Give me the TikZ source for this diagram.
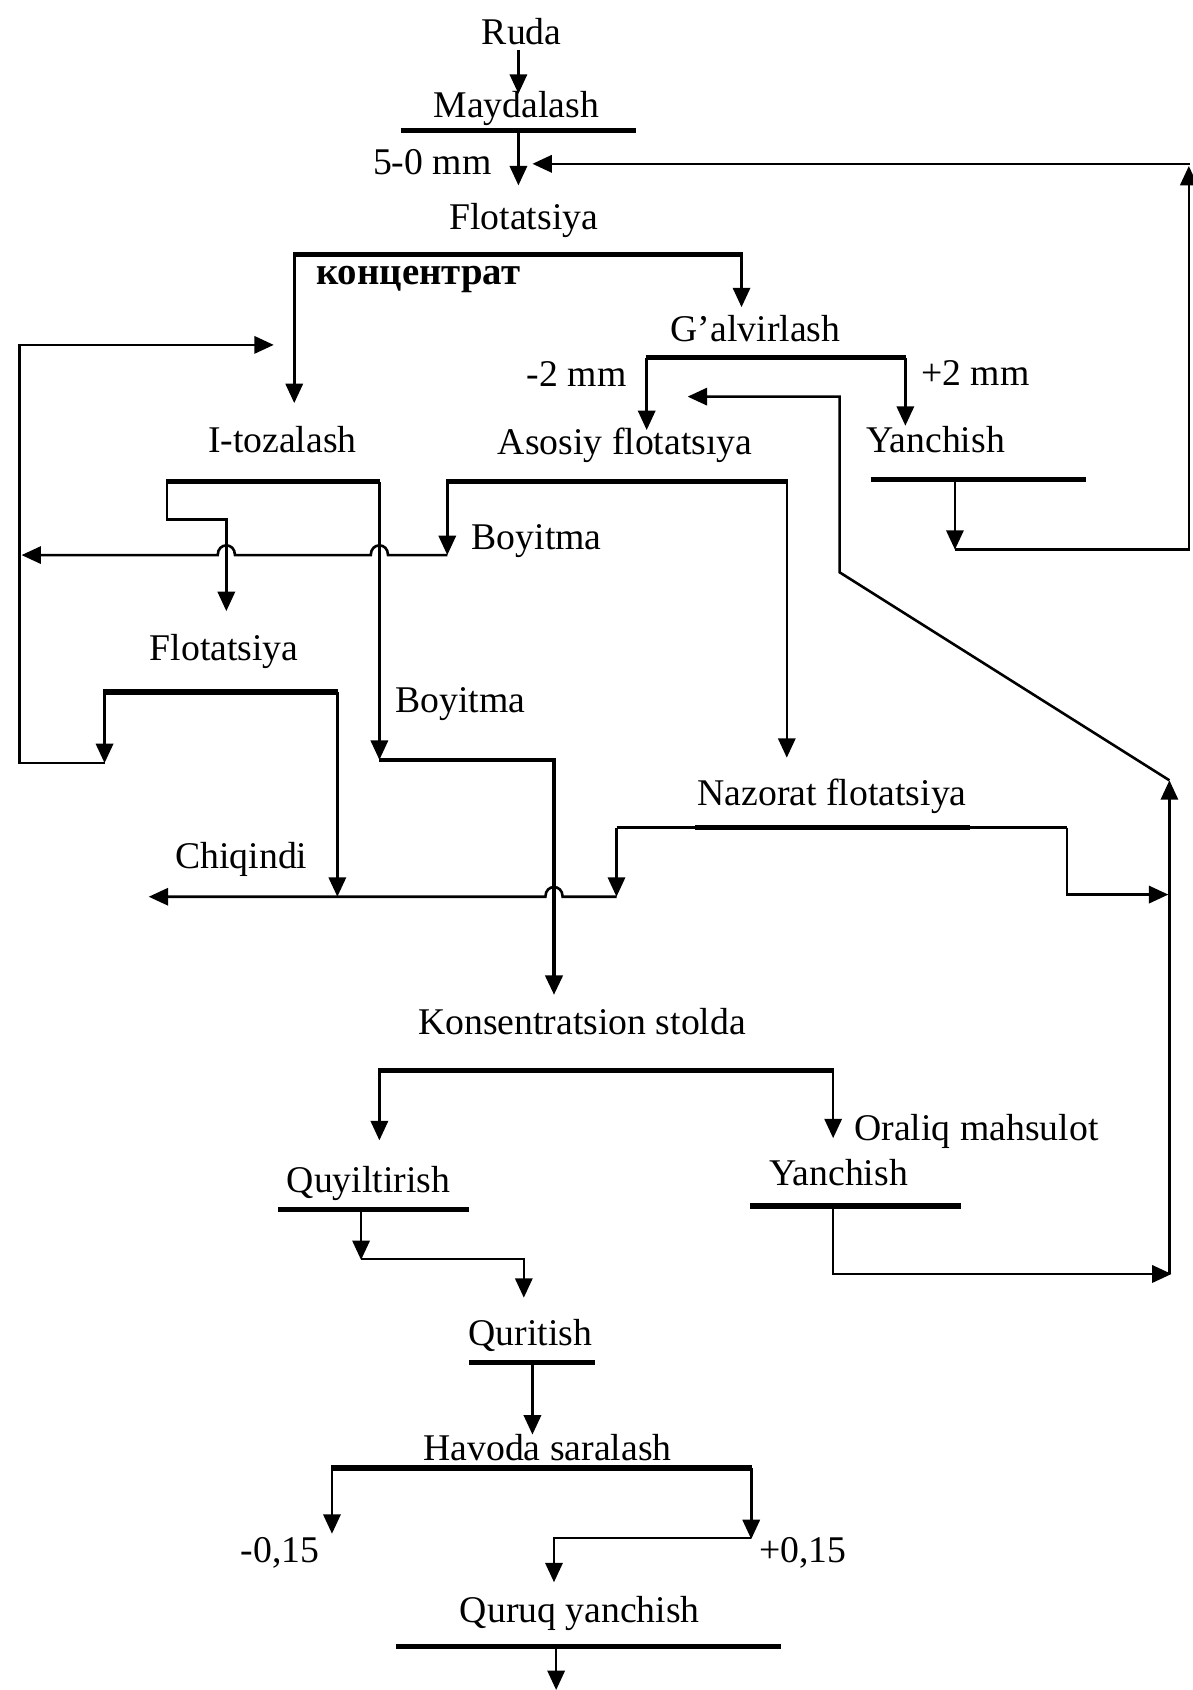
\documentclass[tikz,border=0pt]{standalone}
\usepackage{fontspec}
\setmainfont{Liberation Serif}
\usetikzlibrary{arrows.meta}
\begin{document}
\begin{tikzpicture}[x=0.5pt,y=-0.5pt,
  lbl/.style={font=\fontsize{17.5}{20}\selectfont, inner sep=0pt, anchor=base},
  bar/.style={line width=2.4pt},
  ln/.style={line width=1.2pt},
  arr/.style={ln, -{Triangle[length=9pt,width=8pt]}}]
\useasboundingbox (0,0) rectangle (1106,1568);
\fill[white] (0,0) rectangle (1106,1568);
% ---------- labels ----------
\node[lbl] (ruda) at (484,41) {Ruda};
\node[lbl] (mayd) at (479,109) {Maydalash};
\node[lbl] (mm50) at (401,162) {5-0 mm};
\node[lbl] (flot1) at (486,213) {Flotatsiya};
\node[lbl,font=\fontsize{18}{21}\selectfont\bfseries] (konc) at (388,264) {концентрат};
\node[lbl] (galv) at (701,317) {G'alvirlash};
\node[lbl] (m2) at (535,359) {-2 mm};
\node[lbl] (p2) at (905,358) {+2 mm};
\node[lbl] (itoz) at (262,420) {I-tozalash};
\node[lbl] (asos) at (580,422) {Asosiy flotatsıya};
\node[lbl] (yan1) at (868,420) {Yanchish};
\node[lbl] (boy1) at (498,510) {Boyitma};
\node[lbl] (flot2) at (208,613) {Flotatsiya};
\node[lbl] (boy2) at (427,661) {Boyitma};
\node[lbl] (naz) at (772,747) {Nazorat flotatsiya};
\node[lbl] (chiq) at (224,806) {Chiqindi};
\node[lbl] (kons) at (540,960) {Konsentratsion stolda};
\node[lbl] (oral) at (906,1058) {Oraliq mahsulot};
\node[lbl] (yan2) at (778,1100) {Yanchish};
\node[lbl] (quy) at (342,1106) {Quyiltirish};
\node[lbl] (qur) at (492,1248) {Quritish};
\node[lbl] (hav) at (508,1355) {Havoda saralash};
\node[lbl] (m015) at (260,1450) {-0,15};
\node[lbl] (p015) at (745,1450) {+0,15};
\node[lbl] (quruq) at (538,1505) {Quruq yanchish};
% ---------- Maydalash ----------
\draw[arr] (481,46) -- (481,87);
\draw[bar] (372,121) -- (590,121);
\draw[arr] (481,121) -- (481,172);
% recycle from Yanchish (top right)
\draw[arr] (886,445) -- (886,510);
\draw[arr] (886,510) -- (1103,510) -- (1103,154);
\draw[arr] (1104,152) -- (494,152);
% ---------- Flotatsiya ----------
\draw[bar] (272,236) -- (689,236);
\draw[arr] (273,236) -- (273,374);
\draw[arr] (688,236) -- (688,285);
% ---------- left recycle ----------
\draw[bar] (96,642) -- (314,642);
\draw[arr] (97,642) -- (97,708);
\draw[arr] (97,708) -- (18,708) -- (18,320) -- (254,320);
\draw[arr] (313,642) -- (313,832);
% ---------- I-tozalash ----------
\draw[bar] (154,447) -- (353,447);
\draw[ln] (155,447) -- (155,482) -- (210,482);
\draw[arr] (210,481) -- (210,567);
\draw[arr] (352,447) -- (352,705);
\draw[arr, line width=1.6pt] (352,705) -- (514,705) -- (514,923);
% ---------- Asosiy flotatsiya ----------
\draw[bar] (414,447) -- (731,447);
\draw[arr] (415,447) -- (415,515);
\draw[arr] (415,515) -- (360,515) .. controls (360,503) and (344,503) .. (344,515)
   -- (218,515) .. controls (218,503) and (202,503) .. (202,515) -- (20,515);
\draw[arr] (730,447) -- (730,703);
% ---------- G'alvirlash ----------
\draw[bar] (599,332) -- (841,332);
\draw[arr] (600,332) -- (600,399);
\draw[arr] (840,332) -- (840,395);
% ---------- Yanchish 1 ----------
\draw[bar] (808,445) -- (1008,445);
% ---------- return to Asosiy ----------
\draw[arr] (1085,1182) -- (1085,724);
\draw[arr] (1085,724) -- (779,531) -- (779,368) -- (638,368);
% ---------- Nazorat ----------
\draw[ln] (572,768) -- (990,768);
\draw[bar] (645,768) -- (900,768);
\draw[arr] (572,768) -- (572,832);
\draw[arr] (572,832) -- (522,832) .. controls (522,820) and (506,820) .. (506,832) -- (138,832);
\draw[arr] (990,768) -- (990,830) -- (1084,830);
% ---------- Konsentratsion stolda ----------
\draw[bar] (351,993) -- (774,993);
\draw[arr] (352,993) -- (352,1058);
\draw[arr] (773,993) -- (773,1056);
% ---------- Quyiltirish ----------
\draw[bar] (258,1122) -- (435,1122);
\draw[arr] (335,1122) -- (335,1169);
\draw[arr] (335,1168) -- (486,1168) -- (486,1204);
% ---------- Yanchish 2 ----------
\draw[bar] (696,1119) -- (892,1119);
\draw[arr] (773,1119) -- (773,1182) -- (1087,1182);
% ---------- Quritish ----------
\draw[bar] (435,1264) -- (552,1264);
\draw[arr] (494,1264) -- (494,1331);
% ---------- Havoda saralash ----------
\draw[bar] (307,1362) -- (698,1362);
\draw[arr] (308,1362) -- (308,1423);
\draw[arr] (697,1362) -- (697,1428);
\draw[arr] (697,1427) -- (514,1427) -- (514,1468);
% ---------- Quruq yanchish ----------
\draw[bar] (367,1528) -- (725,1528);
\draw[arr] (516,1528) -- (516,1568);
\end{tikzpicture}
\end{document}
